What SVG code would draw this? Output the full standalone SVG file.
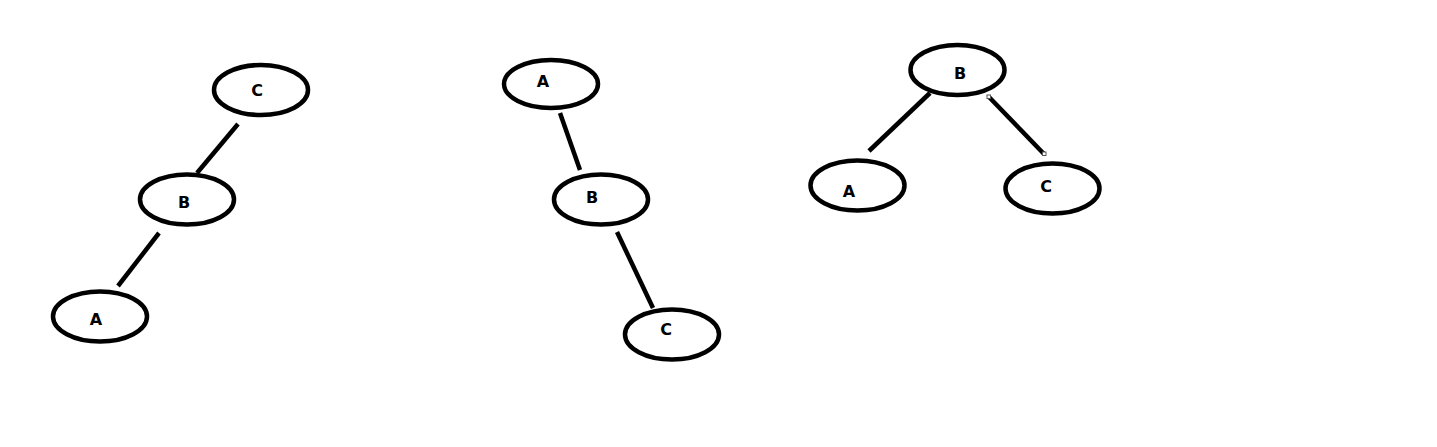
<svg xmlns="http://www.w3.org/2000/svg" width="1437" height="447" viewBox="0 0 1437 447">
<style>
.n{fill:#fff;stroke:#000;stroke-width:4.5}
.t{font-family:"DejaVu Sans","Liberation Sans",sans-serif;font-weight:bold;font-size:16px;fill:#000;text-anchor:middle}
.e{stroke:#000;stroke-width:4.5;stroke-linecap:butt}
.h{fill:#fff;stroke:#555;stroke-width:1}
</style>
<rect width="1437" height="447" fill="#fff"/>
<g id="connectors">
<line class="e" x1="238" y1="124" x2="197" y2="173"/>
<line class="e" x1="159" y1="233" x2="118" y2="286"/>
<line class="e" x1="560" y1="113" x2="580" y2="170"/>
<line class="e" x1="617" y1="232" x2="653" y2="308"/>
<line class="e" x1="930" y1="93" x2="869" y2="151"/>
<line class="e" x1="989" y1="97" x2="1044" y2="154"/>
<rect class="h" x="987" y="95" width="3.5" height="3.5"/>
<rect class="h" x="1042.5" y="152" width="3.5" height="3.5"/>
</g>
<g id="t1-C"><ellipse class="n" cx="261" cy="90" rx="47" ry="25"/><text class="t" x="257" y="96">C</text></g>
<g id="t1-B"><ellipse class="n" cx="187" cy="199.5" rx="47" ry="25"/><text class="t" x="184" y="208">B</text></g>
<g id="t1-A"><ellipse class="n" cx="100" cy="316.5" rx="47" ry="25"/><text class="t" x="96" y="325">A</text></g>
<g id="t2-A"><ellipse class="n" cx="551" cy="84" rx="47" ry="24"/><text class="t" x="543" y="87">A</text></g>
<g id="t2-B"><ellipse class="n" cx="601" cy="199.5" rx="47" ry="25"/><text class="t" x="592" y="203">B</text></g>
<g id="t2-C"><ellipse class="n" cx="672" cy="334.5" rx="47" ry="25"/><text class="t" x="666" y="335">C</text></g>
<g id="t3-B"><ellipse class="n" cx="957.5" cy="70" rx="47" ry="25"/><text class="t" x="960" y="79">B</text></g>
<g id="t3-A"><ellipse class="n" cx="857.5" cy="185.5" rx="47" ry="25"/><text class="t" x="849" y="197">A</text></g>
<g id="t3-C"><ellipse class="n" cx="1052.5" cy="188.5" rx="47" ry="25"/><text class="t" x="1046" y="192">C</text></g>
</svg>
